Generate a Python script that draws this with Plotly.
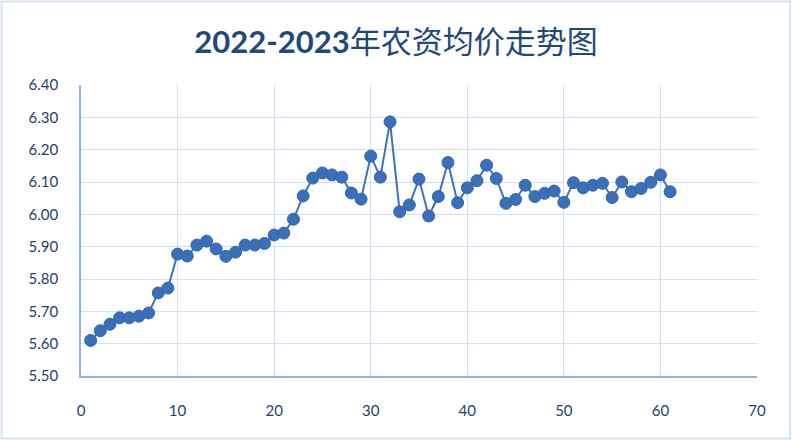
import plotly.graph_objects as go

x_vals = list(range(1, 62))
prices = [5.61, 5.64, 5.66, 5.68, 5.68, 5.685, 5.695, 5.757, 5.772, 5.877,
          5.871, 5.905, 5.917, 5.893, 5.87, 5.883, 5.905, 5.905, 5.91, 5.936,
          5.942, 5.985, 6.057, 6.112, 6.128, 6.122, 6.115, 6.066, 6.047, 6.18,
          6.115, 6.286, 6.008, 6.029, 6.109, 5.995, 6.055, 6.16, 6.036, 6.082,
          6.104, 6.152, 6.111, 6.034, 6.046, 6.09, 6.055, 6.065, 6.072, 6.037,
          6.098, 6.082, 6.09, 6.096, 6.052, 6.10, 6.07, 6.08, 6.099, 6.122,
          6.07]
y_ticks = [5.50, 5.60, 5.70, 5.80, 5.90, 6.00, 6.10, 6.20, 6.30, 6.40]
x_ticks = [0, 10, 20, 30, 40, 50, 60, 70]
title_years = "2022-2023"
title_rest = "年农资均价走势图"

fig = go.Figure()
fig.add_trace(go.Scatter(
    x=x_vals, y=prices, mode="lines+markers",
    line=dict(color="#3E72BD", width=2),
    marker=dict(size=12, color="#3A70BA", line=dict(color="#3466AD", width=1)),
    hoverinfo="x+y", showlegend=False,
))

font_family = "Lato, 'Noto Sans CJK SC', sans-serif"
fig.update_layout(
    width=792, height=441,
    margin=dict(l=81, r=35, t=85, b=65, autoexpand=False),
    paper_bgcolor="white", plot_bgcolor="white",
    title=dict(text="<b>" + title_years + "</b>" + title_rest, x=0.5, xanchor="center",
               y=0.905, yanchor="middle",
               font=dict(family=font_family, size=31, color="#1F497D")),
    font=dict(family=font_family, color="#1F3F73", size=15),
    xaxis=dict(range=[0, 70], tickvals=x_ticks, ticktext=[str(v) for v in x_ticks],
               showgrid=True, gridcolor="#D3E0F1", gridwidth=1,
               showline=True, linecolor="#8DB3E2", linewidth=1.5,
               zeroline=False, ticks="", ticklabelstandoff=20, automargin=False,
               tickfont=dict(size=15, color="#1F3F73")),
    yaxis=dict(range=[5.50, 6.40], tickvals=y_ticks,
               ticktext=["%.2f" % v for v in y_ticks],
               showgrid=True, gridcolor="#D3E0F1", gridwidth=1,
               showline=True, linecolor="#8DB3E2", linewidth=1.5,
               zeroline=False, ticks="", ticklabelstandoff=18, automargin=False,
               tickfont=dict(size=15, color="#1F3F73")),
)
# outer chart border
fig.add_shape(type="rect", xref="paper", yref="paper",
              x0=-79.5/676, x1=1 + 33/676, y0=-62.5/291, y1=1 + 83.5/291,
              line=dict(color="#D3E1F2", width=2), fillcolor="rgba(0,0,0,0)")

fig.write_html("out.html", config={"displayModeBar": False},
               post_script="document.body.style.margin='0';document.body.style.overflow='hidden';")
